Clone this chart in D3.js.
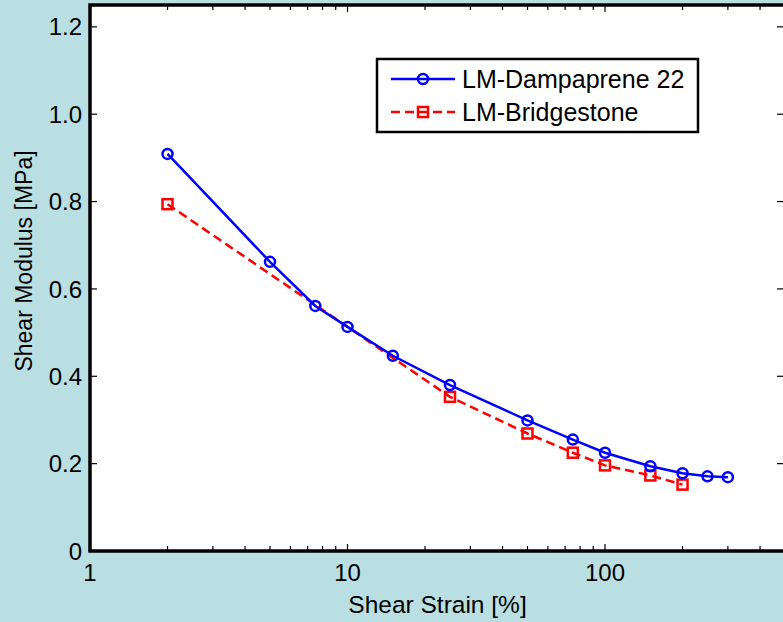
<!DOCTYPE html>
<html><head><meta charset="utf-8">
<script src="https://cdn.jsdelivr.net/npm/d3@7"></script>
<style>
html,body{margin:0;padding:0;background:#badfe2;}
svg{display:block;font-family:"Liberation Sans",Arial,sans-serif;}
</style></head>
<body>
<svg id="c" width="783" height="622"></svg>
<script>
const strainBlue = [2, 5, 7.5, 10, 15, 25, 50, 75, 100, 150, 200, 250, 300];
const modulusBlue = [0.909, 0.662, 0.561, 0.513, 0.447, 0.380, 0.299, 0.255, 0.225, 0.194, 0.178, 0.171, 0.169];
const strainRed = [2, 25, 50, 75, 100, 150, 200];
const modulusRed = [0.794, 0.353, 0.269, 0.225, 0.196, 0.173, 0.152];
const seriesNames = ["LM-Dampaprene 22", "LM-Bridgestone"];
const xTickValues = [1, 10, 100];
const yTickValues = [0, 0.2, 0.4, 0.6, 0.8, 1.0, 1.2];
const xLabel = "Shear Strain [%]";
const yLabel = "Shear Modulus [MPa]";

const svg = d3.select("#c");
const L = 90, R = 785, T = 5, B = 551;
const x = d3.scaleLog().domain([1, 500]).range([L, R]);
const y = d3.scaleLinear().domain([0, 1.25]).range([B, T]);

svg.append("rect").attr("x", L).attr("y", T).attr("width", R - L).attr("height", B - T).attr("fill", "#fff");

// minor ticks
const minorX = [];
[1, 10, 100].forEach(d => { for (let k = 2; k <= 9; k++) { const v = d * k; if (v < 500) minorX.push(v); } });
const tg = svg.append("g").attr("stroke", "#000").attr("stroke-width", 1.2);
minorX.forEach(v => {
  tg.append("line").attr("x1", x(v)).attr("x2", x(v)).attr("y1", B).attr("y2", B - 5);
  tg.append("line").attr("x1", x(v)).attr("x2", x(v)).attr("y1", T).attr("y2", T + 5);
});
xTickValues.forEach(v => {
  tg.append("line").attr("x1", x(v)).attr("x2", x(v)).attr("y1", B).attr("y2", B - 7);
  tg.append("line").attr("x1", x(v)).attr("x2", x(v)).attr("y1", T).attr("y2", T + 7);
});
yTickValues.forEach(v => {
  tg.append("line").attr("x1", L).attr("x2", L + 7).attr("y1", y(v)).attr("y2", y(v));
  tg.append("line").attr("x1", R).attr("x2", R - 8).attr("y1", y(v)).attr("y2", y(v));
});

// axes frame
svg.append("rect").attr("x", L).attr("y", T).attr("width", R - L).attr("height", B - T)
  .attr("fill", "none").attr("stroke", "#000").attr("stroke-width", 3.5);

// tick labels
const xFmt = d3.format("d");
svg.append("g").selectAll("text").data(xTickValues).join("text")
  .attr("x", d => x(d)).attr("y", 581).attr("text-anchor", "middle")
  .attr("font-size", 24).attr("fill", "#000").text(d => xFmt(d));
svg.append("g").selectAll("text").data(yTickValues).join("text")
  .attr("x", 82).attr("y", d => y(d)).attr("dy", "0.36em").attr("text-anchor", "end")
  .attr("font-size", 24).attr("fill", "#000").text(d => d === 0 ? "0" : d3.format(".1f")(d));

// axis labels
svg.append("text").attr("x", (L + R) / 2).attr("y", 613).attr("text-anchor", "middle")
  .attr("font-size", 24.5).attr("fill", "#000").text(xLabel);
svg.append("text").attr("transform", "translate(32,261) rotate(-90)").attr("text-anchor", "middle")
  .attr("font-size", 23).attr("fill", "#000").text(yLabel);

// lines
const lineBlue = d3.line().x((d, i) => x(strainBlue[i])).y(d => y(d));
const lineRed = d3.line().x((d, i) => x(strainRed[i])).y(d => y(d));
svg.append("path").attr("d", lineRed(modulusRed)).attr("fill", "none").attr("stroke", "#ff0000")
  .attr("stroke-width", 2.5).attr("stroke-dasharray", "9,5");
svg.append("g").selectAll("rect").data(modulusRed).join("rect")
  .attr("x", (d, i) => x(strainRed[i]) - 5).attr("y", d => y(d) - 5).attr("width", 10).attr("height", 10)
  .attr("fill", "none").attr("stroke", "#ff0000").attr("stroke-width", 2.5);
svg.append("path").attr("d", lineBlue(modulusBlue)).attr("fill", "none").attr("stroke", "#0000ff")
  .attr("stroke-width", 2.5);
svg.append("g").selectAll("circle").data(modulusBlue).join("circle")
  .attr("cx", (d, i) => x(strainBlue[i])).attr("cy", d => y(d)).attr("r", 5)
  .attr("fill", "none").attr("stroke", "#0000ff").attr("stroke-width", 2.5);

// legend
const lg = svg.append("g");
lg.append("rect").attr("x", 377).attr("y", 59).attr("width", 321).attr("height", 73)
  .attr("fill", "#fff").attr("stroke", "#000").attr("stroke-width", 2.5);
lg.append("line").attr("x1", 391).attr("x2", 455).attr("y1", 79).attr("y2", 79)
  .attr("stroke", "#0000ff").attr("stroke-width", 2.5);
lg.append("circle").attr("cx", 423).attr("cy", 79).attr("r", 5).attr("fill", "none")
  .attr("stroke", "#0000ff").attr("stroke-width", 2.5);
lg.append("line").attr("x1", 391).attr("x2", 455).attr("y1", 112).attr("y2", 112)
  .attr("stroke", "#ff0000").attr("stroke-width", 2.5).attr("stroke-dasharray", "9,5");
lg.append("rect").attr("x", 418).attr("y", 107).attr("width", 10).attr("height", 10).attr("fill", "none")
  .attr("stroke", "#ff0000").attr("stroke-width", 2.5);
lg.selectAll("text.lt").data(seriesNames).join("text").attr("class", "lt")
  .attr("x", 462).attr("y", (d, i) => (i === 0 ? 79 : 112)).attr("dy", "0.36em")
  .attr("font-size", 25).attr("fill", "#000").text(d => d);
</script>
</body></html>
